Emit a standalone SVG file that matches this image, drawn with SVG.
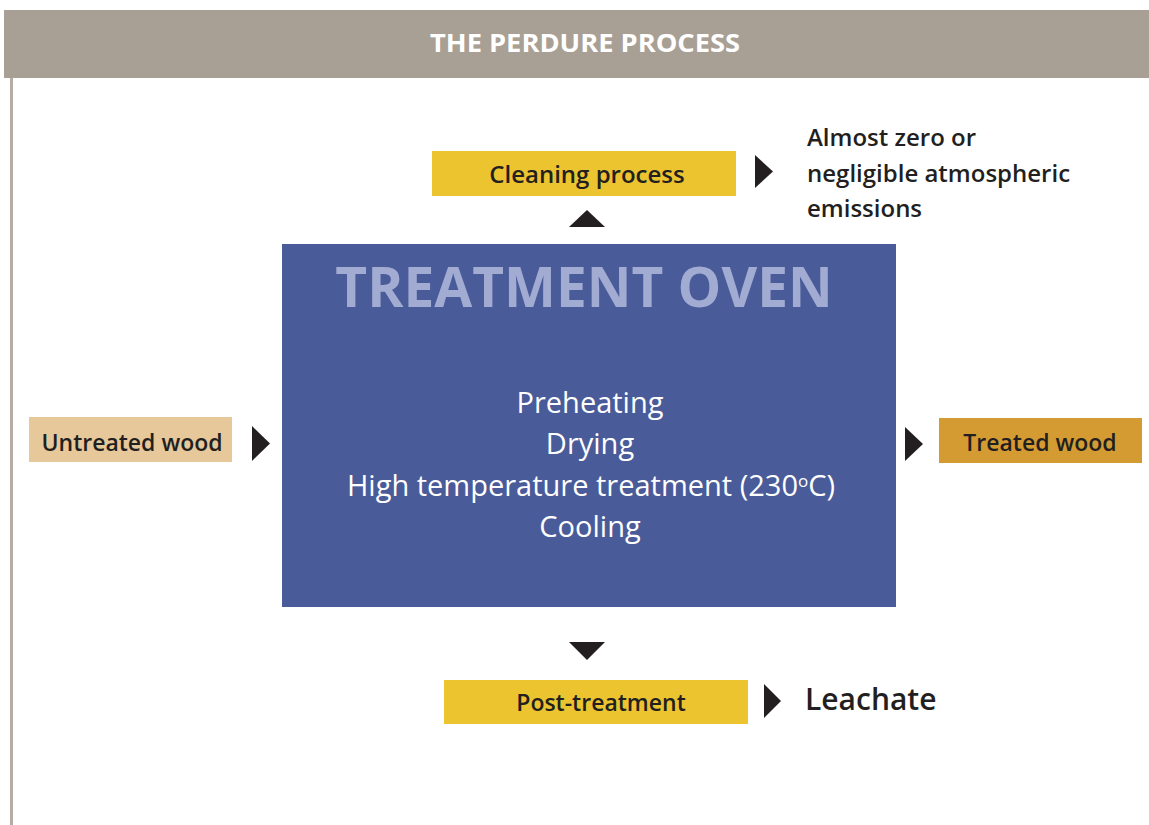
<svg xmlns="http://www.w3.org/2000/svg" width="1149" height="825" viewBox="0 0 1149 825">
<style>
.lbl{font-family:"Open Sans","Liberation Sans",sans-serif;fill:#231f20;font-weight:600}
.yel{fill:#ebc42f}
.tri{fill:#231f20}
.oven{font-family:"Open Sans","Liberation Sans",sans-serif;fill:#ffffff;font-size:29px;text-anchor:middle}
</style>
<rect width="1149" height="825" fill="#ffffff"/>
<g id="header">
<rect x="4" y="10" width="1145" height="68" fill="#a9a095"/>
<rect x="10" y="78" width="3" height="747" fill="#b5ada3"/>
<text x="585" y="52" font-family="Open Sans, Liberation Sans, sans-serif" font-weight="bold" font-size="25" fill="#ffffff" text-anchor="middle" textLength="310" lengthAdjust="spacingAndGlyphs">THE PERDURE PROCESS</text>
</g>
<g id="oven">
<rect x="282" y="244" width="614" height="363" fill="#4a5b99"/>
<text x="584" y="307" font-family="Open Sans, Liberation Sans, sans-serif" font-weight="bold" font-size="55" fill="#a2acd2" text-anchor="middle">TREATMENT OVEN</text>
<text class="oven" x="590" y="413">Preheating</text>
<text class="oven" x="590" y="454">Drying</text>
<text class="oven" x="591" y="496">High temperature treatment (230<tspan font-size="17" dy="-9">o</tspan><tspan dy="9">C)</tspan></text>
<text class="oven" x="590" y="537">Cooling</text>
</g>
<g id="cleaning">
<rect class="yel" x="432" y="151" width="304" height="45"/>
<text class="lbl" x="587" y="183" font-size="24" text-anchor="middle">Cleaning process</text>
</g>
<g id="emissions">
<text class="lbl" x="807" y="146" font-size="24">Almost zero or</text>
<text class="lbl" x="807" y="182" font-size="24">negligible atmospheric</text>
<text class="lbl" x="807" y="217" font-size="24">emissions</text>
</g>
<g id="untreated">
<rect x="29" y="417" width="203" height="45" fill="#e6c89a"/>
<text class="lbl" x="132" y="451" font-size="23" text-anchor="middle">Untreated wood</text>
</g>
<g id="treated">
<rect x="939" y="418" width="203" height="45" fill="#d59b33"/>
<text class="lbl" x="1040" y="451" font-size="23" text-anchor="middle">Treated wood</text>
</g>
<g id="post">
<rect class="yel" x="444" y="680" width="304" height="44"/>
<text class="lbl" x="601" y="711" font-size="23" text-anchor="middle">Post-treatment</text>
</g>
<g id="leachate">
<text class="lbl" x="805" y="710" font-size="30">Leachate</text>
</g>
<g id="connectors">
<polygon class="tri" points="755,155 773,171.5 755,188"/>
<polygon class="tri" points="569,227 587,210 605,227"/>
<polygon class="tri" points="252,426 270,443.5 252,461"/>
<polygon class="tri" points="905,427 923,444 905,461"/>
<polygon class="tri" points="569,642 605,642 587,660"/>
<polygon class="tri" points="764,684 781,701 764,718"/>
</g>
</svg>
